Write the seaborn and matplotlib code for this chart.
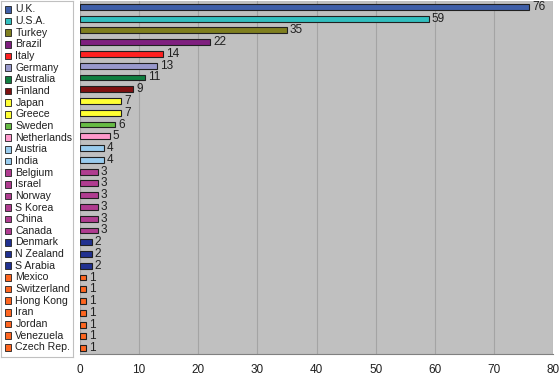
import pandas as pd
import matplotlib.pyplot as plt
import matplotlib.transforms as mtransforms
from matplotlib.patches import Rectangle
import seaborn as sns

countries = ['U.K.', 'U.S.A.', 'Turkey', 'Brazil', 'Italy', 'Germany', 'Australia',
             'Finland', 'Japan', 'Greece', 'Sweden', 'Netherlands', 'Austria', 'India',
             'Belgium', 'Israel', 'Norway', 'S Korea', 'China', 'Canada', 'Denmark',
             'N Zealand', 'S Arabia', 'Mexico', 'Switzerland', 'Hong Kong', 'Iran',
             'Jordan', 'Venezuela', 'Czech Rep.']
counts = [76, 59, 35, 22, 14, 13, 11, 9, 7, 7, 6, 5, 4, 4, 3, 3, 3, 3, 3, 3,
          2, 2, 2, 1, 1, 1, 1, 1, 1, 1]
colors = ['#3F5FA8', '#33BFBF', '#7F7F1F', '#7F1F7F', '#FF2020', '#9999CC', '#107F40',
          '#7F1010', '#FFFF33', '#FFFF33', '#66BB44', '#FF99CC', '#99CCEE', '#99CCEE',
          '#B03C90', '#B03C90', '#B03C90', '#B03C90', '#B03C90', '#B03C90',
          '#203090', '#203090', '#203090', '#FF6620', '#FF6620', '#FF6620', '#FF6620',
          '#FF6620', '#FF6620', '#FF6620']

df = pd.DataFrame({'country': countries, 'count': counts})

sns.set_style('white')
plt.rcParams['font.family'] = ['Liberation Sans', 'DejaVu Sans']

fig = plt.figure(figsize=(5.6, 3.8), dpi=100)
ax = fig.add_axes([80/560, 1-354/380, 473/560, 353/380])
ax.set_facecolor('#C0C0C0')

sns.barplot(data=df, x='count', y='country', hue='country', palette=colors,
            saturation=1, orient='h', width=0.5, edgecolor='#202020', linewidth=0.8,
            legend=False, ax=ax, zorder=3)

for i, v in enumerate(counts):
    ax.text(v + 0.5, i, str(v), va='center', ha='left', fontsize=8.5, color='#202020', zorder=4)

ax.set_xlim(0, 80)
ax.set_ylim(len(countries) - 0.5, -0.5)
ax.set_xticks(range(0, 81, 10))
ax.set_yticks([])
ax.set_xlabel('')
ax.set_ylabel('')
ax.grid(axis='x', color='#A4A4A4', linewidth=0.8, zorder=0)
ax.tick_params(axis='x', labelsize=8.5, length=0, pad=7, colors='#202020')
for s in ['top', 'right', 'left']:
    ax.spines[s].set_visible(False)
ax.spines['bottom'].set_color('#808080')

# legend box on the left
lax = fig.add_axes([1/560, 1-357/380, 72/560, 356/380])
lax.set_xticks([])
lax.set_yticks([])
for s in lax.spines.values():
    s.set_color('#C0C0C0')
    s.set_linewidth(0.8)
trans = mtransforms.blended_transform_factory(lax.transAxes, ax.transData)
for i, (c, col) in enumerate(zip(countries, colors)):
    yy = i + 0.22 - 0.01 * i
    lax.add_patch(Rectangle((0.05, yy - 0.28), 0.095, 0.56, transform=trans,
                            facecolor=col, edgecolor='#202020', linewidth=0.6, clip_on=False))
    lax.text(0.2, yy, c, transform=trans, va='center', ha='left',
             fontsize=7.6, color='#202020')

fig.savefig('out.png', dpi=100)
